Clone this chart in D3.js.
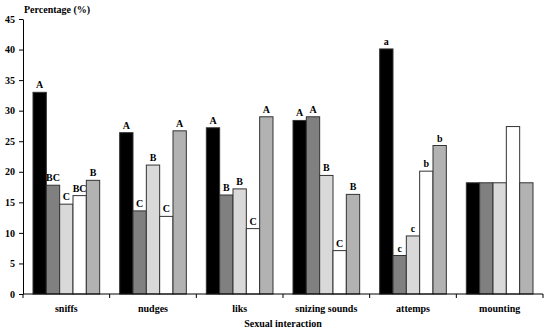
<!DOCTYPE html>
<html><head><meta charset="utf-8">
<script src="https://cdn.jsdelivr.net/npm/d3@7"></script>
<style>body{margin:0;background:#fff}svg{display:block}text{font-family:"Liberation Serif","Times New Roman",serif;font-weight:bold}</style>
</head><body><svg id="c" width="550" height="331"></svg>
<script>
const categories = ["sniffs","nudges","liks","snizing sounds","attemps","mounting"];
const seriesNames = ["s1","s2","s3","s4","s5"];
const seriesColors = ["#000000","#808080","#d9d9d9","#ffffff","#b2b2b2"];
const values = [
  [33.0,17.8,14.7,16.1,18.6],
  [26.4,13.6,21.1,12.7,26.7],
  [27.2,16.2,17.2,10.7,29.0],
  [28.4,29.0,19.4,7.1,16.3],
  [40.1,6.3,9.5,20.1,24.3],
  [18.2,18.2,18.2,27.4,18.2]
];
const letters = [
  ["A","BC","C","BC","B"],
  ["A","C","B","C","A"],
  ["A","B","B","C","A"],
  ["A","A","B","C","B"],
  ["a","c","c","b","b"],
  ["","","","",""]
];
const yTicks = [0,5,10,15,20,25,30,35,40,45];

const svg = d3.select("#c");
const L=23, R=543, T=19, B=294;
const x0 = d3.scaleBand().domain(categories).range([L,R]).padding(0);
const x1 = d3.scaleBand().domain(seriesNames).range([10, x0.bandwidth()-10]).padding(0);
const y = d3.scaleLinear().domain([0,45]).range([B,T]);

const g = svg.append("g");
categories.forEach((c,i)=>{
  const gg = g.append("g").attr("transform",`translate(${x0(c)},0)`);
  seriesNames.forEach((s,j)=>{
    const v = values[i][j];
    gg.append("rect").attr("x",x1(s)).attr("y",y(v)).attr("width",x1.bandwidth()).attr("height",y(0)-y(v))
      .attr("fill",seriesColors[j]).attr("stroke","#333").attr("stroke-width",1);
    if(letters[i][j]) gg.append("text").attr("x",x1(s)+x1.bandwidth()/2).attr("y",y(v)-4)
      .attr("text-anchor","middle").attr("font-size",10).text(letters[i][j]);
  });
});

const ya = svg.append("g").attr("transform",`translate(${L},0)`)
  .call(d3.axisLeft(y).tickValues(yTicks).tickSize(4).tickSizeOuter(0));
ya.select(".domain").attr("stroke","#000");
ya.selectAll("text").attr("font-size",10).attr("font-family","Liberation Serif").attr("font-weight","bold").attr("fill","#000").attr("dx",-1);

const xa = svg.append("g").attr("transform",`translate(0,${B})`);
xa.append("line").attr("x1",L).attr("x2",R).attr("y1",0).attr("y2",0).attr("stroke","#000");
const bounds = categories.map(c=>x0(c)).concat([R]);
bounds.forEach(b=>xa.append("line").attr("x1",b).attr("x2",b).attr("y1",0).attr("y2",4).attr("stroke","#000"));
categories.forEach(c=>xa.append("text").attr("x",x0(c)+x0.bandwidth()/2).attr("y",18).attr("text-anchor","middle").attr("font-size",10).text(c));

svg.append("text").attr("x",24).attr("y",13).attr("font-size",10).text("Percentage (%)");
svg.append("text").attr("x",(L+R)/2).attr("y",327).attr("text-anchor","middle").attr("font-size",10).text("Sexual interaction");
</script></body></html>
